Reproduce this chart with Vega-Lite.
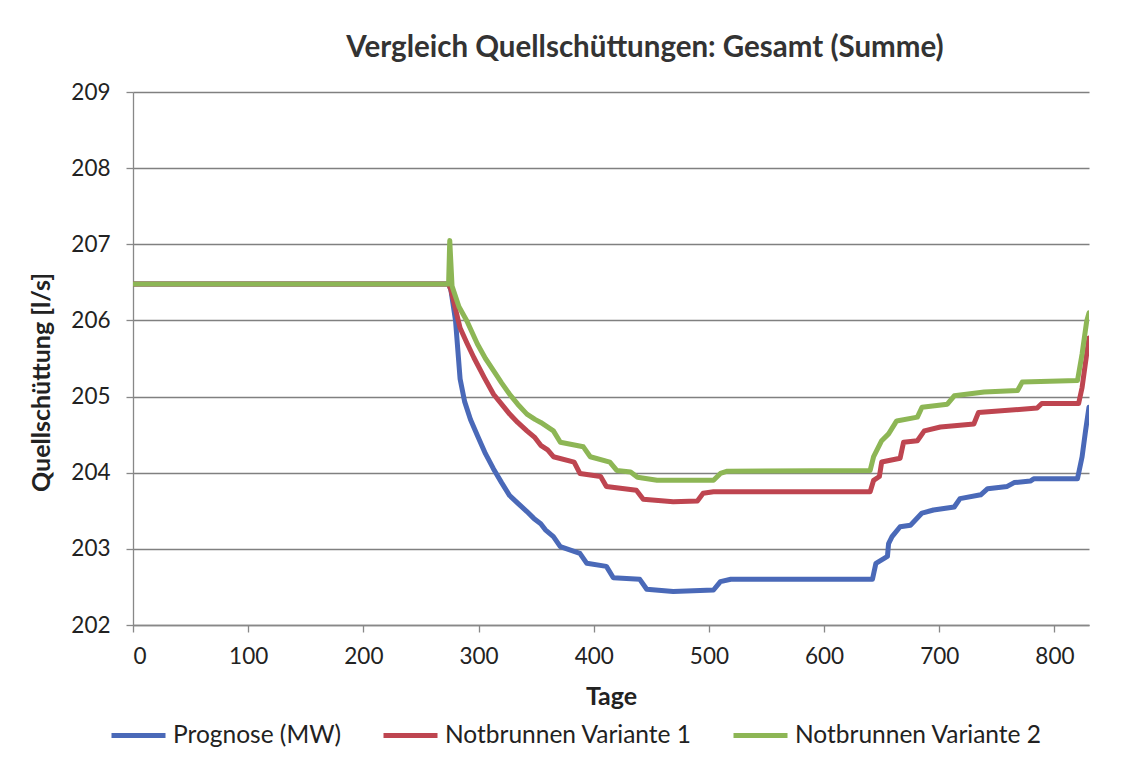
{
  "$schema": "https://vega.github.io/schema/vega-lite/v6.json",
  "width": 956,
  "height": 533,
  "autosize": {"type": "none"},
  "padding": {"left": 133, "top": 92, "right": 35, "bottom": 145},
  "background": "white",
  "title": {
    "text": "Vergleich Quellschüttungen: Gesamt (Summe)",
    "font": "Lato",
    "fontSize": 29.5,
    "fontWeight": "bold",
    "color": "#333333",
    "anchor": "middle",
    "frame": "group",
    "dx": 34,
    "offset": 18
  },
  "data": {
    "values": [
      {"s": "Prognose (MW)", "t": 0, "q": 206.48},
      {"s": "Prognose (MW)", "t": 274, "q": 206.48},
      {"s": "Prognose (MW)", "t": 276, "q": 206.4},
      {"s": "Prognose (MW)", "t": 280, "q": 206.0},
      {"s": "Prognose (MW)", "t": 284, "q": 205.23},
      {"s": "Prognose (MW)", "t": 288, "q": 204.93},
      {"s": "Prognose (MW)", "t": 293, "q": 204.7},
      {"s": "Prognose (MW)", "t": 299, "q": 204.49},
      {"s": "Prognose (MW)", "t": 306, "q": 204.25},
      {"s": "Prognose (MW)", "t": 313, "q": 204.05},
      {"s": "Prognose (MW)", "t": 320, "q": 203.87},
      {"s": "Prognose (MW)", "t": 327, "q": 203.7},
      {"s": "Prognose (MW)", "t": 334, "q": 203.6},
      {"s": "Prognose (MW)", "t": 342, "q": 203.49},
      {"s": "Prognose (MW)", "t": 348, "q": 203.4},
      {"s": "Prognose (MW)", "t": 354, "q": 203.33},
      {"s": "Prognose (MW)", "t": 358, "q": 203.25},
      {"s": "Prognose (MW)", "t": 365, "q": 203.16},
      {"s": "Prognose (MW)", "t": 371, "q": 203.03},
      {"s": "Prognose (MW)", "t": 388, "q": 202.94},
      {"s": "Prognose (MW)", "t": 394, "q": 202.81},
      {"s": "Prognose (MW)", "t": 411, "q": 202.77},
      {"s": "Prognose (MW)", "t": 417, "q": 202.62},
      {"s": "Prognose (MW)", "t": 440, "q": 202.6},
      {"s": "Prognose (MW)", "t": 446, "q": 202.47},
      {"s": "Prognose (MW)", "t": 469, "q": 202.44},
      {"s": "Prognose (MW)", "t": 504, "q": 202.46},
      {"s": "Prognose (MW)", "t": 510, "q": 202.57},
      {"s": "Prognose (MW)", "t": 519, "q": 202.6},
      {"s": "Prognose (MW)", "t": 642, "q": 202.6},
      {"s": "Prognose (MW)", "t": 645, "q": 202.81},
      {"s": "Prognose (MW)", "t": 655, "q": 202.9},
      {"s": "Prognose (MW)", "t": 656, "q": 203.07},
      {"s": "Prognose (MW)", "t": 659, "q": 203.16},
      {"s": "Prognose (MW)", "t": 666, "q": 203.29},
      {"s": "Prognose (MW)", "t": 675, "q": 203.31},
      {"s": "Prognose (MW)", "t": 685, "q": 203.47},
      {"s": "Prognose (MW)", "t": 695, "q": 203.51},
      {"s": "Prognose (MW)", "t": 713, "q": 203.55},
      {"s": "Prognose (MW)", "t": 718, "q": 203.66},
      {"s": "Prognose (MW)", "t": 736, "q": 203.71},
      {"s": "Prognose (MW)", "t": 742, "q": 203.79},
      {"s": "Prognose (MW)", "t": 759, "q": 203.82},
      {"s": "Prognose (MW)", "t": 765, "q": 203.87},
      {"s": "Prognose (MW)", "t": 779, "q": 203.89},
      {"s": "Prognose (MW)", "t": 782, "q": 203.92},
      {"s": "Prognose (MW)", "t": 820, "q": 203.92},
      {"s": "Prognose (MW)", "t": 824, "q": 204.21},
      {"s": "Prognose (MW)", "t": 827, "q": 204.55},
      {"s": "Prognose (MW)", "t": 830, "q": 204.86},

      {"s": "Notbrunnen Variante 1", "t": 0, "q": 206.48},
      {"s": "Notbrunnen Variante 1", "t": 274, "q": 206.48},
      {"s": "Notbrunnen Variante 1", "t": 276, "q": 206.4},
      {"s": "Notbrunnen Variante 1", "t": 284, "q": 205.9},
      {"s": "Notbrunnen Variante 1", "t": 290, "q": 205.7},
      {"s": "Notbrunnen Variante 1", "t": 296, "q": 205.51},
      {"s": "Notbrunnen Variante 1", "t": 305, "q": 205.25},
      {"s": "Notbrunnen Variante 1", "t": 313, "q": 205.03},
      {"s": "Notbrunnen Variante 1", "t": 320, "q": 204.9},
      {"s": "Notbrunnen Variante 1", "t": 327, "q": 204.77},
      {"s": "Notbrunnen Variante 1", "t": 334, "q": 204.66},
      {"s": "Notbrunnen Variante 1", "t": 342, "q": 204.55},
      {"s": "Notbrunnen Variante 1", "t": 349, "q": 204.46},
      {"s": "Notbrunnen Variante 1", "t": 354, "q": 204.36},
      {"s": "Notbrunnen Variante 1", "t": 360, "q": 204.3},
      {"s": "Notbrunnen Variante 1", "t": 365, "q": 204.21},
      {"s": "Notbrunnen Variante 1", "t": 383, "q": 204.14},
      {"s": "Notbrunnen Variante 1", "t": 388, "q": 203.99},
      {"s": "Notbrunnen Variante 1", "t": 406, "q": 203.95},
      {"s": "Notbrunnen Variante 1", "t": 411, "q": 203.82},
      {"s": "Notbrunnen Variante 1", "t": 437, "q": 203.77},
      {"s": "Notbrunnen Variante 1", "t": 443, "q": 203.65},
      {"s": "Notbrunnen Variante 1", "t": 469, "q": 203.62},
      {"s": "Notbrunnen Variante 1", "t": 490, "q": 203.63},
      {"s": "Notbrunnen Variante 1", "t": 495, "q": 203.73},
      {"s": "Notbrunnen Variante 1", "t": 504, "q": 203.75},
      {"s": "Notbrunnen Variante 1", "t": 640, "q": 203.75},
      {"s": "Notbrunnen Variante 1", "t": 643, "q": 203.9},
      {"s": "Notbrunnen Variante 1", "t": 648, "q": 203.95},
      {"s": "Notbrunnen Variante 1", "t": 650, "q": 204.14},
      {"s": "Notbrunnen Variante 1", "t": 666, "q": 204.19},
      {"s": "Notbrunnen Variante 1", "t": 669, "q": 204.4},
      {"s": "Notbrunnen Variante 1", "t": 681, "q": 204.42},
      {"s": "Notbrunnen Variante 1", "t": 687, "q": 204.55},
      {"s": "Notbrunnen Variante 1", "t": 701, "q": 204.6},
      {"s": "Notbrunnen Variante 1", "t": 730, "q": 204.64},
      {"s": "Notbrunnen Variante 1", "t": 734, "q": 204.79},
      {"s": "Notbrunnen Variante 1", "t": 785, "q": 204.85},
      {"s": "Notbrunnen Variante 1", "t": 789, "q": 204.91},
      {"s": "Notbrunnen Variante 1", "t": 821, "q": 204.91},
      {"s": "Notbrunnen Variante 1", "t": 824, "q": 205.12},
      {"s": "Notbrunnen Variante 1", "t": 828, "q": 205.56},
      {"s": "Notbrunnen Variante 1", "t": 830, "q": 205.77},

      {"s": "Notbrunnen Variante 2", "t": 0, "q": 206.48},
      {"s": "Notbrunnen Variante 2", "t": 274, "q": 206.48},
      {"s": "Notbrunnen Variante 2", "t": 275, "q": 207.05},
      {"s": "Notbrunnen Variante 2", "t": 277, "q": 206.45},
      {"s": "Notbrunnen Variante 2", "t": 283, "q": 206.18},
      {"s": "Notbrunnen Variante 2", "t": 290, "q": 205.99},
      {"s": "Notbrunnen Variante 2", "t": 299, "q": 205.69},
      {"s": "Notbrunnen Variante 2", "t": 306, "q": 205.5},
      {"s": "Notbrunnen Variante 2", "t": 313, "q": 205.34},
      {"s": "Notbrunnen Variante 2", "t": 320, "q": 205.18},
      {"s": "Notbrunnen Variante 2", "t": 327, "q": 205.03},
      {"s": "Notbrunnen Variante 2", "t": 334, "q": 204.9},
      {"s": "Notbrunnen Variante 2", "t": 342, "q": 204.77},
      {"s": "Notbrunnen Variante 2", "t": 349, "q": 204.7},
      {"s": "Notbrunnen Variante 2", "t": 354, "q": 204.66},
      {"s": "Notbrunnen Variante 2", "t": 365, "q": 204.55},
      {"s": "Notbrunnen Variante 2", "t": 371, "q": 204.4},
      {"s": "Notbrunnen Variante 2", "t": 391, "q": 204.34},
      {"s": "Notbrunnen Variante 2", "t": 397, "q": 204.21},
      {"s": "Notbrunnen Variante 2", "t": 414, "q": 204.14},
      {"s": "Notbrunnen Variante 2", "t": 420, "q": 204.03},
      {"s": "Notbrunnen Variante 2", "t": 432, "q": 204.01},
      {"s": "Notbrunnen Variante 2", "t": 438, "q": 203.94},
      {"s": "Notbrunnen Variante 2", "t": 455, "q": 203.9},
      {"s": "Notbrunnen Variante 2", "t": 504, "q": 203.9},
      {"s": "Notbrunnen Variante 2", "t": 510, "q": 203.99},
      {"s": "Notbrunnen Variante 2", "t": 516, "q": 204.02},
      {"s": "Notbrunnen Variante 2", "t": 640, "q": 204.03},
      {"s": "Notbrunnen Variante 2", "t": 643, "q": 204.21},
      {"s": "Notbrunnen Variante 2", "t": 650, "q": 204.42},
      {"s": "Notbrunnen Variante 2", "t": 656, "q": 204.51},
      {"s": "Notbrunnen Variante 2", "t": 663, "q": 204.68},
      {"s": "Notbrunnen Variante 2", "t": 681, "q": 204.73},
      {"s": "Notbrunnen Variante 2", "t": 685, "q": 204.86},
      {"s": "Notbrunnen Variante 2", "t": 707, "q": 204.9},
      {"s": "Notbrunnen Variante 2", "t": 713, "q": 205.01},
      {"s": "Notbrunnen Variante 2", "t": 739, "q": 205.06},
      {"s": "Notbrunnen Variante 2", "t": 768, "q": 205.08},
      {"s": "Notbrunnen Variante 2", "t": 772, "q": 205.19},
      {"s": "Notbrunnen Variante 2", "t": 820, "q": 205.21},
      {"s": "Notbrunnen Variante 2", "t": 824, "q": 205.56},
      {"s": "Notbrunnen Variante 2", "t": 828, "q": 205.99},
      {"s": "Notbrunnen Variante 2", "t": 830, "q": 206.1}
    ]
  },
  "mark": {"type": "line", "strokeWidth": 5, "strokeJoin": "round", "strokeCap": "round", "clip": true},
  "encoding": {
    "x": {
      "field": "t",
      "type": "quantitative",
      "title": "Tage",
      "scale": {"domain": [0, 830], "nice": false, "zero": false},
      "axis": {
        "values": [0, 100, 200, 300, 400, 500, 600, 700, 800],
        "grid": false,
        "tickSize": 7,
        "labelPadding": 13,
        "titlePadding": 17
      }
    },
    "y": {
      "field": "q",
      "type": "quantitative",
      "title": "Quellschüttung [l/s]",
      "scale": {"domain": [202, 209], "nice": false, "zero": false},
      "axis": {
        "values": [202, 203, 204, 205, 206, 207, 208, 209],
        "grid": true,
        "tickSize": 7,
        "labelPadding": 16,
        "titlePadding": 16,
        "titleY": 290
      }
    },
    "color": {
      "field": "s",
      "type": "nominal",
      "scale": {
        "domain": ["Prognose (MW)", "Notbrunnen Variante 1", "Notbrunnen Variante 2"],
        "range": ["#4a69b8", "#be4550", "#8db655"]
      },
      "legend": {
        "title": null,
        "orient": "none",
        "direction": "horizontal",
        "legendX": -24,
        "legendY": 614,
        "symbolType": "stroke",
        "symbolSize": 2916,
        "symbolStrokeWidth": 5,
        "labelFont": "Lato",
        "labelFontSize": 24.5,
        "labelColor": "#222222",
        "labelOffset": 5,
        "labelLimit": 500,
        "columnPadding": 31
      }
    }
  },
  "config": {
    "view": {"stroke": null},
    "axis": {
      "labelFont": "Lato",
      "labelFontSize": 22.5,
      "labelColor": "#222222",
      "titleFont": "Lato",
      "titleFontSize": 25,
      "titleFontWeight": "bold",
      "titleColor": "#222222",
      "domainColor": "#888888",
      "domainWidth": 1.3,
      "tickColor": "#888888",
      "tickWidth": 1.3,
      "gridColor": "#808080",
      "gridWidth": 1.3
    }
  }
}
